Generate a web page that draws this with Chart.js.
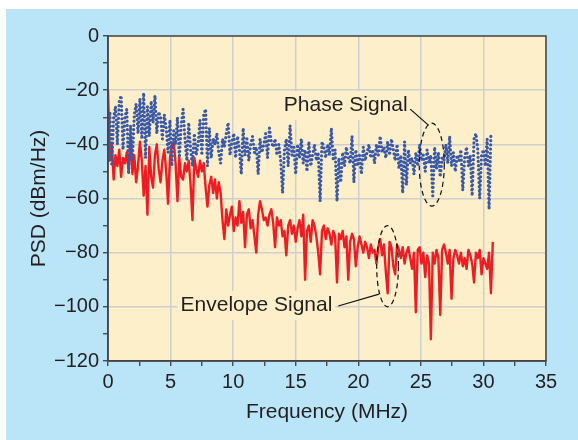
<!DOCTYPE html>
<html>
<head>
<meta charset="utf-8">
<script src="https://cdn.jsdelivr.net/npm/chart.js@4.4.0/dist/chart.umd.min.js"></script>
<style>
  html, body { margin: 0; padding: 0; background: #fff; }
</style>
</head>
<body>
<canvas id="psdChart" width="578" height="440"></canvas>
<script>
// spectrum data (dBm/Hz), sampled on a uniform frequency grid
const envelopeStep = 0.15; // MHz
const envelopePsd = [
  -20, -46, -40, -53, -44, -48, -42, -52, -45, -47,
  -43, -50, -37, -51, -44, -54, -48, -39, -46, -59,
  -48, -66, -41, -52, -56, -44, -40, -49, -54, -46,
  -42, -50, -62, -45, -40, -39, -47, -61, -45, -52,
  -53, -47, -50, -46, -55, -68, -45, -49, -52, -46,
  -50, -47, -56, -63, -55, -52, -58, -53, -60, -54,
  -58, -68, -75, -64, -70, -66, -63, -72, -67, -70,
  -61, -69, -65, -78, -66, -64, -71, -68, -74, -80,
  -66, -61, -64, -68, -67, -70, -66, -64, -69, -78,
  -67, -70, -68, -74, -72, -81, -70, -68, -73, -70,
  -76, -71, -68, -74, -66, -90, -72, -70, -76, -68,
  -70, -74, -80, -88, -72, -70, -75, -71, -73, -77,
  -72, -74, -91, -73, -75, -72, -78, -74, -90, -76,
  -73, -75, -85, -78, -74, -77, -80, -76, -78, -82,
  -77, -80, -79, -84, -78, -75, -81, -77, -87, -95,
  -76, -78, -85, -88, -77, -79, -82, -78, -84, -80,
  -78, -82, -86, -80, -102, -79, -78, -84, -80, -89,
  -81, -84, -112, -80, -84, -79, -82, -103, -79, -77,
  -80, -84, -79, -97, -82, -79, -81, -84, -80, -85,
  -82, -86, -79, -81, -84, -91, -80, -82, -79, -88,
  -82, -84, -86, -80, -95, -76
];

const phaseStep = 0.15; // MHz
const phasePsd = [
  -46, -28, -48, -30, -26, -40, -24, -22, -42, -30,
  -27, -51, -33, -46, -29, -25, -36, -23, -38, -21,
  -45, -26, -37, -24, -32, -22, -36, -28, -30, -38,
  -29, -34, -43, -31, -48, -35, -40, -30, -45, -33,
  -27, -38, -46, -32, -42, -48, -36, -44, -40, -31,
  -44, -29, -27, -48, -34, -45, -38, -40, -36, -43,
  -47, -38, -41, -36, -32, -44, -39, -36, -45, -37,
  -42, -51, -34, -44, -38, -46, -40, -37, -43, -41,
  -51, -38, -43, -40, -36, -45, -34, -39, -41, -38,
  -44, -40, -46, -58, -42, -38, -48, -33, -44, -41,
  -51, -40, -45, -38, -47, -42, -50, -39, -48, -44,
  -40, -46, -43, -61, -39, -41, -45, -40, -44, -34,
  -46, -42, -61, -45, -54, -43, -48, -41, -45, -47,
  -37, -54, -42, -48, -44, -51, -41, -46, -43, -40,
  -45, -42, -47, -40, -44, -37, -43, -41, -45, -39,
  -44, -38, -42, -46, -40, -49, -44, -58, -39, -55,
  -42, -47, -45, -51, -43, -48, -40, -46, -44, -50,
  -42, -47, -44, -59, -41, -49, -43, -52, -45, -46,
  -40, -47, -37, -48, -43, -50, -44, -46, -42, -57,
  -45, -41, -48, -44, -59, -38, -36, -42, -60, -44,
  -42, -48, -38, -64, -36
];

// axis ranges
const freqMin = 0, freqMax = 35, freqMinorStep = 2.5, freqLabelStep = 5;
const psdMin = -120, psdMax = 0, psdMinorStep = 10, psdLabelStep = 20;

// callouts: [label, text anchor (MHz, dB), leader from, leader to, ellipse centre, radii]
const callouts = [
  { text: 'Phase Signal', at: [14.05, -25.5], from: [24.15, -27], to: [25.6, -32.9],
    centre: [25.87, -47.5], radius: [1.0, 15.3] },
  { text: 'Envelope Signal', at: [5.8, -99.3], from: [18.4, -99.7], to: [21.66, -95.3],
    centre: [22.34, -85], radius: [0.87, 15] }
];

const toPoints = (values, step) => values.map((v, i) => ({ x: +(i * step).toFixed(3), y: v }));

const labelFont = '21px "Liberation Sans", Arial, sans-serif';
const inkColor = '#231f20';

const panelPlugin = {
  id: 'panel',
  beforeDraw(chart) {
    const { ctx, chartArea: a } = chart;
    ctx.save();
    ctx.fillStyle = '#ffffff';
    ctx.fillRect(0, 0, chart.width, chart.height);
    ctx.fillStyle = '#bae4f8';
    ctx.fillRect(6, 9, chart.width - 6, chart.height - 9);
    ctx.fillStyle = '#fdefc9';
    ctx.fillRect(a.left, a.top, a.right - a.left, a.bottom - a.top);
    ctx.restore();
  },
  afterDatasetsDraw(chart) {
    const { ctx, scales: { x, y } } = chart;
    ctx.save();
    callouts.forEach(c => {
      // dashed ellipse
      const cx = x.getPixelForValue(c.centre[0]);
      const cy = y.getPixelForValue(c.centre[1]);
      const rx = x.getPixelForValue(c.centre[0] + c.radius[0]) - cx;
      const ry = cy - y.getPixelForValue(c.centre[1] + c.radius[1]);
      ctx.strokeStyle = '#111';
      ctx.lineWidth = 1.2;
      ctx.setLineDash([5, 3.5]);
      ctx.beginPath();
      ctx.ellipse(cx, cy, rx, ry, 0, 0, Math.PI * 2);
      ctx.stroke();
      ctx.setLineDash([]);

      // text with a plot coloured box behind it
      ctx.font = labelFont;
      const tx = x.getPixelForValue(c.at[0]);
      const ty = y.getPixelForValue(c.at[1]);
      const w = ctx.measureText(c.text).width;
      ctx.fillStyle = '#fdefc9';
      ctx.fillRect(tx - 3, ty - 14, w + 6, 29);
      ctx.fillStyle = inkColor;
      ctx.textAlign = 'left';
      ctx.textBaseline = 'middle';
      ctx.fillText(c.text, tx, ty);

      // leader line
      ctx.strokeStyle = '#111';
      ctx.lineWidth = 1.2;
      ctx.beginPath();
      ctx.moveTo(x.getPixelForValue(c.from[0]), y.getPixelForValue(c.from[1]));
      ctx.lineTo(x.getPixelForValue(c.to[0]), y.getPixelForValue(c.to[1]));
      ctx.stroke();
    });
    ctx.restore();
  },
  afterDraw(chart) {
    const { ctx, chartArea: a } = chart;
    ctx.save();
    ctx.strokeStyle = '#444';
    ctx.lineWidth = 1.5;
    ctx.strokeRect(a.left, a.top, a.right - a.left, a.bottom - a.top);
    ctx.restore();
  }
};

const minusLabel = v => (v < 0 ? '\u2212' + Math.abs(v) : String(v));
const gridColor = step => c => (c.tick && Math.abs(c.tick.value % step) < 1e-6 ? '#cfcfcf' : 'rgba(0,0,0,0)');

const psdChart = new Chart(document.getElementById('psdChart'), {
  type: 'line',
  data: {
    datasets: [
      {
        label: 'Phase Signal',
        data: toPoints(phasePsd, phaseStep),
        borderColor: '#3a58a8',
        borderWidth: 3.2,
        borderDash: [0, 4.2],
        borderCapStyle: 'round',
        pointRadius: 0,
        tension: 0
      },
      {
        label: 'Envelope Signal',
        data: toPoints(envelopePsd, envelopeStep),
        borderColor: '#ee1d24',
        borderWidth: 2.4,
        borderJoinStyle: 'round',
        pointRadius: 0,
        tension: 0
      }
    ]
  },
  options: {
    responsive: false,
    animation: false,
    layout: { padding: { left: 24, top: 36, right: 32, bottom: 15 } },
    plugins: {
      legend: { display: false },
      tooltip: { enabled: false }
    },
    scales: {
      x: {
        type: 'linear',
        min: freqMin,
        max: freqMax,
        afterFit: s => { s.height = 64; },
        ticks: {
          stepSize: freqMinorStep,
          autoSkip: false,
          maxRotation: 0,
          padding: 4,
          color: inkColor,
          font: { family: '"Liberation Sans", Arial, sans-serif', size: 20 },
          callback: v => (v % freqLabelStep === 0 ? String(v) : '')
        },
        grid: { color: gridColor(freqLabelStep), lineWidth: 1.5, tickColor: '#333', tickLength: 5, tickWidth: 1.2 },
        border: { color: '#444', width: 1.5 },
        title: {
          display: true,
          text: 'Frequency (MHz)',
          color: inkColor,
          padding: { top: 0, bottom: 0 },
          font: { family: '"Liberation Sans", Arial, sans-serif', size: 21 }
        }
      },
      y: {
        min: psdMin,
        max: psdMax,
        afterFit: s => { s.width = 84; },
        ticks: {
          stepSize: psdMinorStep,
          autoSkip: false,
          padding: 4,
          color: inkColor,
          font: { family: '"Liberation Sans", Arial, sans-serif', size: 20 },
          callback: v => (v % psdLabelStep === 0 ? minusLabel(v) : '')
        },
        grid: { color: gridColor(psdLabelStep), lineWidth: 1.5, tickColor: '#333', tickLength: 5, tickWidth: 1.2 },
        border: { color: '#444', width: 1.5 },
        title: {
          display: true,
          text: 'PSD (dBm/Hz)',
          color: inkColor,
          padding: { top: 3, bottom: 0 },
          font: { family: '"Liberation Sans", Arial, sans-serif', size: 21 }
        }
      }
    }
  },
  plugins: [panelPlugin]
});
</script>
</body>
</html>
